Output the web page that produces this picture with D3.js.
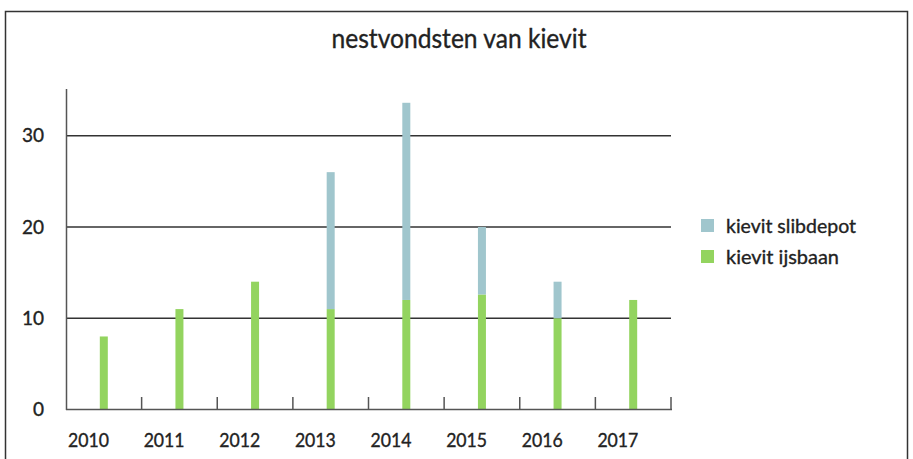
<!DOCTYPE html>
<html>
<head>
<meta charset="utf-8">
<script src="https://cdn.jsdelivr.net/npm/d3@7"></script>
<style>
	body { margin: 0; background: #fff; }
	svg text { font-family: Lato, 'Open Sans', sans-serif; fill: #222; stroke: #222; stroke-width: 0.35px; }
</style>
</head>
<body>
<svg id="chart"></svg>
<script>

var w = 913;
var h = 459;

var years = ['2010', '2011', '2012', '2013', '2014', '2015', '2016', '2017'];
var ijsbaan = [8, 11, 14, 11, 12, 12.6, 10, 12];
var slibdepot = [0, 0, 0, 15, 21.6, 7.4, 4, 0];
var yticks = [0, 10, 20, 30];
var series = ['kievit slibdepot', 'kievit ijsbaan'];
var colors = { 'kievit slibdepot': '#a0c6cd', 'kievit ijsbaan': '#93d45f' };

var svg = d3.select('#chart')
	.attr('width', w)
	.attr('height', h);

// frame round the chart
svg.append('rect')
	.attr('x', 5.5)
	.attr('y', 11.5)
	.attr('width', 902)
	.attr('height', 470)
	.attr('fill', 'none')
	.attr('stroke', '#333')
	.attr('stroke-width', 1.5);

svg.append('text')
	.attr('x', 459)
	.attr('y', 48)
	.attr('text-anchor', 'middle')
	.attr('font-size', 27)
	.attr('textLength', 255)
	.attr('lengthAdjust', 'spacingAndGlyphs')
	.text('nestvondsten van kievit');

var x = d3.scaleBand()
	.domain(years)
	.range([66, 671]);

var y = d3.scaleLinear()
	.domain([0, 35])
	.range([409.5, 90]);

// gridlines
svg.selectAll('.grid')
	.data(yticks.filter(d => d > 0))
	.enter()
	.append('line')
	.attr('class', 'grid')
	.attr('x1', 67)
	.attr('x2', 671)
	.attr('y1', d => y(d))
	.attr('y2', d => y(d))
	.style('stroke', '#333')
	.style('stroke-width', '1.5px');

svg.selectAll('.ylab')
	.data(yticks)
	.enter()
	.append('text')
	.attr('class', 'ylab')
	.attr('x', 44)
	.attr('y', d => y(d))
	.attr('dy', '0.35em')
	.attr('text-anchor', 'end')
	.attr('font-size', 19)
	.text(d => d);

// stacked bars
var table = years.map(function(yr, i) {
	return { year: yr, 'kievit ijsbaan': ijsbaan[i], 'kievit slibdepot': slibdepot[i] };
});
var stack = d3.stack().keys(['kievit ijsbaan', 'kievit slibdepot'])(table);
var bw = 8;

svg.selectAll('.layer')
	.data(stack)
	.enter()
	.append('g')
	.attr('class', 'layer')
	.attr('fill', d => colors[d.key])
	.selectAll('rect')
	.data(d => d)
	.enter()
	.append('rect')
	.attr('x', d => x(d.data.year) + x.bandwidth() / 2 - bw / 2)
	.attr('width', bw)
	.attr('y', d => y(d[1]))
	.attr('height', d => y(d[0]) - y(d[1]));

// axes
svg.append('line')
	.attr('x1', 66.5).attr('x2', 66.5)
	.attr('y1', 89).attr('y2', 410)
	.style('stroke', '#555')
	.style('stroke-width', '1.5px');

svg.append('line')
	.attr('x1', 66).attr('x2', 672)
	.attr('y1', 409.5).attr('y2', 409.5)
	.style('stroke', '#555')
	.style('stroke-width', '1.5px');

svg.selectAll('.xtick')
	.data(years)
	.enter()
	.append('line')
	.attr('class', 'xtick')
	.attr('x1', d => x(d) + x.bandwidth())
	.attr('x2', d => x(d) + x.bandwidth())
	.attr('y1', 397)
	.attr('y2', 410)
	.style('stroke', '#555')
	.style('stroke-width', '1.5px');

svg.selectAll('.xlab')
	.data(years)
	.enter()
	.append('text')
	.attr('class', 'xlab')
	.attr('x', d => x(d) + 2)
	.attr('y', 447)
	.attr('font-size', 19)
	.attr('textLength', 41)
	.attr('lengthAdjust', 'spacingAndGlyphs')
	.text(d => d);

// legend
var legendWidths = [130, 113];
var legend = svg.selectAll('.legend')
	.data(series)
	.enter()
	.append('g')
	.attr('class', 'legend')
	.attr('transform', (d, i) => 'translate(701,' + (219 + i * 31) + ')');

legend.append('rect')
	.attr('width', 13)
	.attr('height', 13)
	.attr('fill', d => colors[d]);

legend.append('text')
	.attr('x', 25)
	.attr('y', 6.5)
	.attr('dy', '0.35em')
	.attr('font-size', 20)
	.attr('textLength', (d, i) => legendWidths[i])
	.attr('lengthAdjust', 'spacingAndGlyphs')
	.text(d => d);

</script>
</body>
</html>
